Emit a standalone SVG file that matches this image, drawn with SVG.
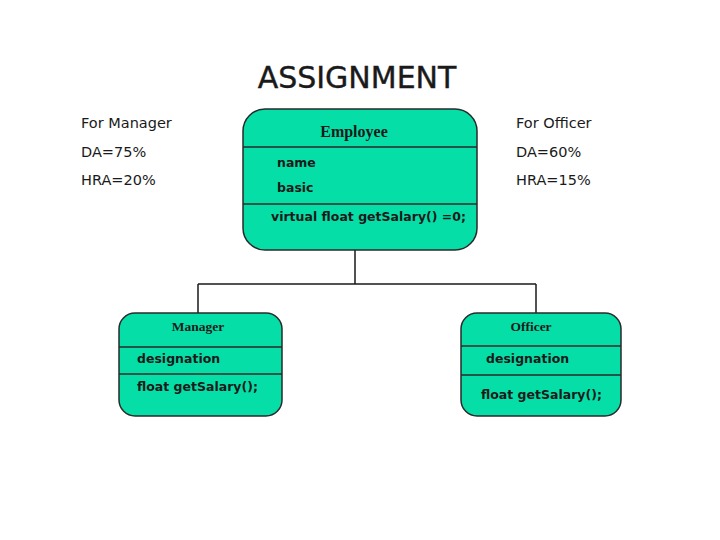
<svg xmlns="http://www.w3.org/2000/svg" width="720" height="540" viewBox="0 0 720 540">
<style>
.box{fill:#05DFA7;stroke:#2a2a2a;stroke-width:1.5}
.div{stroke:#2a2a2a;stroke-width:1.5}
.title{font-family:"Liberation Serif",serif;font-weight:bold;fill:#1a1a1a;text-anchor:middle}
.mem{font-family:"DejaVu Sans","Liberation Sans",sans-serif;font-weight:bold;fill:#1a1a1a;font-size:12.5px}
.note{font-family:"DejaVu Sans","Liberation Sans",sans-serif;fill:#1a1a1a;font-size:14.5px}
.conn{fill:none;stroke:#1a1a1a;stroke-width:1.5}
</style>
<rect width="720" height="540" fill="#fff"/>
<text x="357" y="88" text-anchor="middle" font-family="DejaVu Sans, sans-serif" font-size="30" fill="#1a1a1a" stroke="#1a1a1a" stroke-width="0.4">ASSIGNMENT</text>
<g id="notes-manager">
<text class="note" x="81" y="128">For Manager</text>
<text class="note" x="81" y="157">DA=75%</text>
<text class="note" x="81" y="185">HRA=20%</text>
</g>
<g id="notes-officer">
<text class="note" x="516" y="128">For Officer</text>
<text class="note" x="516" y="157">DA=60%</text>
<text class="note" x="516" y="185">HRA=15%</text>
</g>
<g id="connectors">
<path class="conn" d="M355 250 V284 M198 284 H536 M198 284 V313 M536 284 V313"/>
</g>
<g id="employee">
<rect class="box" x="243" y="109" width="234" height="141" rx="22"/>
<line class="div" x1="243" y1="147" x2="477" y2="147"/>
<line class="div" x1="243" y1="204" x2="477" y2="204"/>
<text class="title" x="354" y="137" font-size="16">Employee</text>
<text class="mem" x="277" y="167">name</text>
<text class="mem" x="277" y="192">basic</text>
<text class="mem" x="271" y="221">virtual float getSalary() =0;</text>
</g>
<g id="manager">
<rect class="box" x="119" y="313" width="163" height="103" rx="16"/>
<line class="div" x1="119" y1="347" x2="282" y2="347"/>
<line class="div" x1="119" y1="374" x2="282" y2="374"/>
<text class="title" x="198" y="331" font-size="13.5">Manager</text>
<text class="mem" x="137" y="363">designation</text>
<text class="mem" x="137" y="391">float getSalary();</text>
</g>
<g id="officer">
<rect class="box" x="461" y="313" width="160" height="103" rx="16"/>
<line class="div" x1="461" y1="346" x2="621" y2="346"/>
<line class="div" x1="461" y1="375" x2="621" y2="375"/>
<text class="title" x="531" y="331" font-size="13.5">Officer</text>
<text class="mem" x="486" y="363">designation</text>
<text class="mem" x="481" y="399">float getSalary();</text>
</g>
</svg>
